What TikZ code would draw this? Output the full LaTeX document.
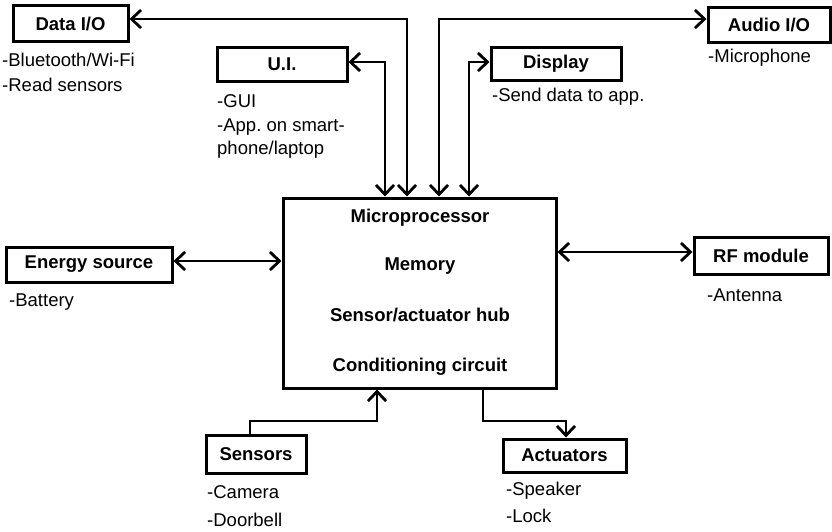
\documentclass[tikz,border=0pt]{standalone}
\usepackage{fontspec}
\setmainfont{Liberation Sans}
\usetikzlibrary{arrows.meta}
\frenchspacing
\begin{document}
\begin{tikzpicture}[x=1pt,y=-1pt,
  box/.style={draw, line width=3pt, inner sep=0pt, font=\fontsize{18.5}{21}\selectfont\bfseries},
  note/.style={anchor=west, inner sep=0pt, font=\fontsize{18.5}{21}\selectfont},
  inner/.style={inner sep=0pt, font=\fontsize{18.5}{21}\selectfont\bfseries},
  conn/.style={line width=2.8pt},
  tip/.tip={Straight Barb[length=9.5pt,width=18pt,line width=2.8pt]},
]
\useasboundingbox (0,0) rectangle (832,531);

% boxes
\node[box, minimum width=115pt, minimum height=36pt] (dio) at (70.5,23.5) {Data I/O};
\node[box, minimum width=130pt, minimum height=34pt] (ui) at (282,64) {U.I.};
\node[box, minimum width=130pt, minimum height=33pt] (disp) at (556,63.5) {Display};
\node[box, minimum width=122pt, minimum height=35pt] (aio) at (769,24.5) {Audio I/O};
\node[box, minimum width=166pt, minimum height=35pt] (en) at (89,264.5) {Energy source};
\node[box, minimum width=134pt, minimum height=37pt] (rf) at (761,255.5) {RF module};
\node[box, minimum width=273pt, minimum height=190pt] (m) at (419.5,293) {};
\node[box, minimum width=100pt, minimum height=38pt] (sen) at (256,454) {Sensors};
\node[box, minimum width=123pt, minimum height=33pt] (act) at (564.5,455.5) {Actuators};

% main box contents
\node[inner] (t1) at (420,218) {Microprocessor};
\node[inner] (t2) at (420,266) {Memory};
\node[inner] (t3) at (420,315) {Sensor/actuator hub};
\node[inner] (t4) at (420,367) {Conditioning circuit};

% annotations
\node[note] (n1) at (2,60) {-Bluetooth/Wi-Fi};
\node[note] (n2) at (2,85) {-Read sensors};
\node[note] (n3) at (217,101) {-GUI};
\node[note] (n4) at (217,127) {-App. on smart-};
\node[note] (n5) at (217,150) {phone/laptop};
\node[note] (n6) at (492,97) {-Send data to app.};
\node[note] (n7) at (708,58) {-Microphone};
\node[note] (n8) at (9,302) {-Battery};
\node[note] (n9) at (707,295) {-Antenna};
\node[note] (n10) at (207,492) {-Camera};
\node[note] (n11) at (207,520) {-Doorbell};
\node[note] (n12) at (506,491) {-Speaker};
\node[note] (n13) at (506,516) {-Lock};

% connectors
\draw[conn, tip-tip] (dio.east |- 0,19) -- (407,19) -- (407,0 |- m.north);
\draw[conn, tip-tip] (ui.east |- 0,62) -- (385,62) -- (385,0 |- m.north);
\draw[conn, tip-tip] (aio.west |- 0,19) -- (439,19) -- (439,0 |- m.north);
\draw[conn, tip-tip] (disp.west |- 0,62) -- (469,62) -- (469,0 |- m.north);
\draw[conn, tip-tip] (en.east |- 0,261) -- (m.west |- 0,261);
\draw[conn, tip-tip] (m.east |- 0,252) -- (rf.west |- 0,252);
\draw[conn, -tip] (250,0 |- sen.north) -- (250,421) -- (377,421) -- (377,0 |- m.south);
\draw[conn, -tip] (483,0 |- m.south) -- (483,421) -- (566,421) -- (566,0 |- act.north);
\end{tikzpicture}
\end{document}
